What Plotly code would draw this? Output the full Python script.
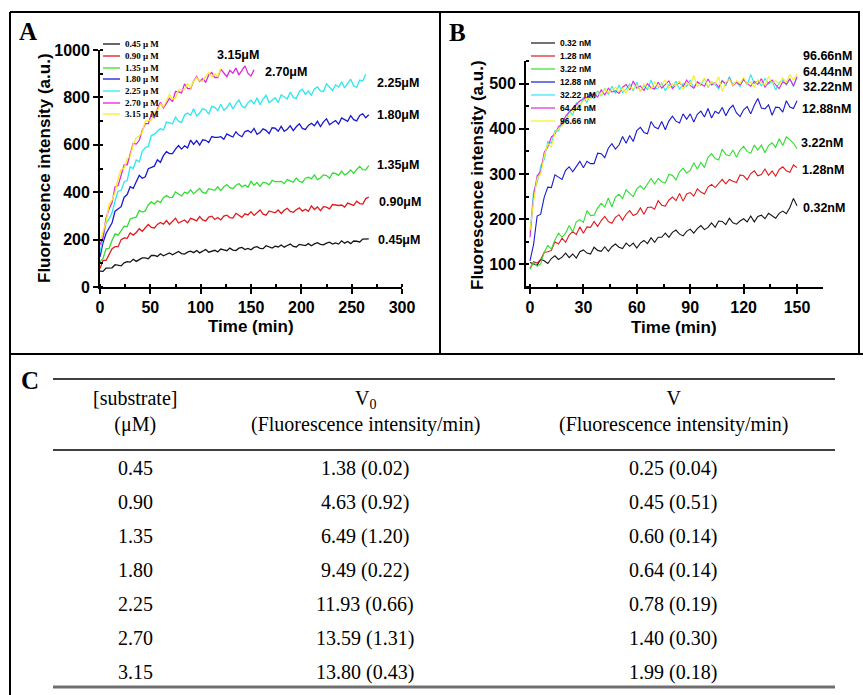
import plotly.graph_objects as go

W, H = 863, 695

# ---------------- panel A : substrate series, one reading every 3 min
a_step = 3
a_names = ["0.45 μ M", "0.90 μ M", "1.35 μ M", "1.80 μ M", "2.25 μ M", "2.70 μ M", "3.15 μ M"]
a_tags = ["0.45μM", "0.90μM", "1.35μM", "1.80μM", "2.25μM", "2.70μM", "3.15μM"]
a_045 = [67, 66, 80, 81, 81, 94, 90, 89, 102, 107, 105, 117, 108, 114, 123, 123, 119, 133, 133, 129,
         140, 132, 137, 144, 136, 144, 150, 141, 139, 147, 151, 145, 154, 144, 152, 158, 147, 151, 155, 148,
         160, 157, 153, 164, 156, 154, 164, 167, 158, 163, 157, 167, 170, 163, 162, 174, 169, 164, 172, 169,
         177, 168, 175, 181, 171, 169, 180, 178, 175, 183, 174, 182, 187, 180, 178, 185, 189, 181, 186, 181,
         195, 185, 192, 183, 194, 193, 190, 202, 201, 203]
a_090 = [78, 112, 112, 137, 162, 170, 170, 200, 207, 205, 228, 219, 230, 246, 235, 250, 264, 251, 249, 264,
         272, 265, 280, 264, 279, 290, 270, 277, 283, 271, 290, 285, 279, 297, 283, 279, 295, 299, 285, 293,
         283, 299, 303, 293, 291, 311, 302, 294, 309, 304, 318, 302, 313, 325, 307, 303, 321, 317, 313, 325,
         310, 324, 332, 319, 315, 326, 334, 320, 328, 319, 342, 327, 338, 322, 339, 337, 330, 348, 345, 344,
         346, 337, 354, 349, 344, 362, 352, 350, 373, 379]
a_135 = [107, 121, 161, 163, 197, 224, 219, 238, 257, 255, 287, 292, 295, 323, 316, 321, 347, 359, 350, 364,
         356, 377, 386, 377, 378, 401, 393, 384, 400, 395, 410, 393, 405, 416, 399, 395, 415, 412, 408, 423,
         407, 423, 432, 419, 415, 428, 436, 422, 430, 421, 446, 429, 441, 424, 441, 439, 431, 450, 445, 445,
         446, 436, 453, 448, 442, 460, 446, 441, 459, 463, 456, 473, 453, 460, 473, 470, 459, 481, 479, 471,
         489, 473, 480, 494, 479, 496, 509, 495, 494, 512]
a_180 = [127, 187, 226, 246, 271, 320, 330, 339, 379, 390, 423, 416, 444, 471, 459, 465, 499, 504, 510, 537,
         526, 554, 571, 563, 563, 582, 597, 582, 596, 587, 620, 602, 618, 599, 621, 619, 610, 635, 631, 631,
         634, 623, 646, 639, 633, 655, 641, 634, 656, 660, 651, 669, 644, 652, 667, 661, 647, 672, 670, 657,
         678, 657, 666, 680, 660, 676, 689, 669, 665, 682, 691, 680, 699, 677, 697, 710, 685, 694, 702, 687,
         713, 706, 699, 723, 706, 701, 724, 731, 714, 727]
a_225 = [146, 213, 268, 287, 314, 364, 405, 407, 443, 449, 507, 500, 536, 528, 573, 588, 594, 639, 645, 657,
         669, 662, 696, 693, 688, 717, 700, 695, 726, 734, 725, 752, 722, 734, 753, 747, 729, 762, 758, 744,
         771, 746, 757, 777, 751, 773, 789, 763, 756, 778, 788, 773, 798, 769, 793, 809, 778, 788, 799, 778,
         811, 802, 793, 823, 800, 796, 825, 835, 813, 827, 809, 836, 844, 827, 825, 858, 843, 829, 853, 844,
         866, 840, 859, 877, 849, 842, 873, 869, 898]
a_270 = [178, 207, 290, 329, 356, 423, 428, 467, 515, 515, 564, 606, 603, 619, 661, 689, 689, 730, 713, 751,
         779, 755, 775, 796, 782, 825, 823, 819, 857, 838, 836, 869, 888, 867, 879, 864, 895, 905, 884, 884,
         919, 903, 887, 914, 902, 924, 895, 914, 933, 901, 890, 917]
a_315 = [192, 234, 274, 348, 367, 400, 458, 495, 502, 542, 551, 600, 630, 637, 653, 700, 702, 704, 739, 743,
         773, 760, 786, 812, 794, 797, 832, 832, 833, 858, 841, 868, 884, 870, 868, 889, 905, 887, 900, 888,
         922]

# ---------------- panel B : enzyme series, one reading every 2 min
b_step = 2
b_names = ["0.32 nM", "1.28 nM", "3.22 nM", "12.88 nM", "32.22 nM", "64.44 nM", "96.66 nM"]
b_tags = ["0.32nM", "1.28nM", "3.22nM", "12.88nM", "32.22nM", "64.44nM", "96.66nM"]
b_032 = [104, 101, 98, 111, 108, 102, 113, 119, 111, 116, 125, 115, 123, 114, 128, 132, 125, 123, 138, 131,
         129, 139, 129, 139, 145, 138, 135, 147, 140, 147, 136, 147, 153, 146, 159, 149, 160, 160, 169, 160,
         171, 176, 167, 163, 173, 178, 169, 179, 186, 177, 182, 192, 182, 196, 195, 188, 202, 192, 189, 196,
         201, 194, 207, 194, 206, 209, 201, 213, 207, 202, 213, 218, 212, 226, 246, 230]
b_128 = [91, 106, 103, 111, 127, 128, 131, 150, 145, 158, 149, 165, 173, 166, 183, 169, 183, 182, 195, 184,
         197, 206, 195, 191, 204, 210, 198, 211, 219, 208, 212, 225, 211, 226, 227, 222, 241, 231, 229, 242,
         249, 241, 257, 240, 256, 259, 251, 267, 260, 256, 271, 277, 270, 279, 288, 278, 288, 284, 281, 298,
         296, 287, 301, 307, 296, 299, 311, 297, 307, 295, 310, 316, 307, 304, 320, 314]
b_322 = [89, 105, 96, 101, 127, 142, 134, 154, 169, 160, 169, 186, 172, 194, 199, 193, 219, 208, 209, 225,
         235, 227, 247, 227, 249, 255, 246, 265, 257, 250, 267, 274, 266, 277, 290, 278, 290, 283, 280, 299,
         297, 287, 305, 313, 302, 308, 325, 311, 326, 314, 337, 345, 334, 331, 355, 343, 340, 353, 337, 353,
         361, 350, 346, 364, 353, 364, 347, 363, 369, 359, 378, 363, 382, 376, 368, 356]
b_1288 = [108, 144, 207, 211, 249, 271, 270, 298, 293, 288, 308, 316, 305, 316, 328, 314, 328, 323, 323, 346,
          345, 336, 357, 367, 355, 364, 383, 368, 385, 372, 396, 403, 392, 389, 416, 404, 400, 416, 398, 417,
          428, 417, 413, 433, 421, 433, 415, 432, 439, 426, 445, 424, 439, 434, 447, 429, 444, 452, 435, 427,
          442, 449, 433, 452, 467, 446, 444, 453, 430, 448, 447, 437, 462, 448, 445, 462]
b_3222 = [170, 262, 280, 318, 332, 372, 368, 396, 395, 418, 416, 440, 430, 458, 448, 470, 458, 480, 466, 484,
          472, 490, 476, 494, 478, 497, 480, 488, 499, 484, 503, 482, 496, 486, 508, 488, 490, 501, 484, 498,
          492, 505, 487, 500, 494, 508, 490, 503, 496, 512, 491, 504, 497, 488, 508, 495, 516, 498, 503, 493,
          510, 497, 520, 500, 506, 495, 512, 499, 505, 486, 502, 509, 496, 511, 493, 514]
b_6444 = [160, 250, 296, 305, 348, 360, 382, 388, 405, 410, 428, 436, 445, 452, 462, 466, 470, 474, 478, 470,
          486, 475, 490, 481, 484, 478, 492, 498, 486, 506, 490, 495, 485, 500, 491, 488, 503, 490, 498, 506,
          489, 497, 502, 493, 508, 496, 490, 504, 499, 494, 510, 497, 502, 492, 506, 499, 512, 495, 503, 497,
          509, 500, 494, 505, 498, 511, 492, 502, 508, 497, 489, 504, 499, 510, 495, 515]
b_9666 = [175, 240, 290, 300, 340, 366, 360, 392, 400, 406, 418, 430, 440, 446, 455, 462, 468, 465, 476, 480,
          474, 488, 480, 486, 492, 483, 490, 479, 494, 488, 497, 482, 499, 492, 488, 504, 494, 498, 508, 490,
          500, 495, 506, 487, 502, 498, 518, 494, 500, 512, 493, 505, 499, 515, 483, 503, 510, 496, 506, 500,
          514, 498, 504, 492, 509, 502, 497, 516, 500, 507, 498, 513, 503, 520, 508, 522]

# ---------------- panel C : kinetic table
substrate = ["0.45", "0.90", "1.35", "1.80", "2.25", "2.70", "3.15"]
v0 = ["1.38 (0.02)", "4.63 (0.92)", "6.49 (1.20)", "9.49 (0.22)", "11.93 (0.66)", "13.59 (1.31)", "13.80 (0.43)"]
v = ["0.25 (0.04)", "0.45 (0.51)", "0.60 (0.14)", "0.64 (0.14)", "0.78 (0.19)", "1.40 (0.30)", "1.99 (0.18)"]

colors = ["#151515", "#e3191c", "#33dd33", "#1a1ad0", "#2ae8f0", "#e024e0", "#f7ee22"]
SANS = "Liberation Sans, Arial"
SERIF = "Liberation Serif, Times New Roman"


def fx(p):
    return p / W


def fy(p):
    return 1 - p / H


fig = go.Figure()

a_series = [a_045, a_090, a_135, a_180, a_225, a_270, a_315]
for name, ys, c in zip(a_names, a_series, colors):
    fig.add_trace(go.Scatter(x=[a_step * i for i in range(len(ys))], y=ys, mode="lines", name=name,
                             line=dict(color=c, width=1.3), xaxis="x", yaxis="y", showlegend=False))

b_series = [b_032, b_128, b_322, b_1288, b_3222, b_6444, b_9666]
for name, ys, c in zip(b_names, b_series, colors):
    fig.add_trace(go.Scatter(x=[b_step * i for i in range(len(ys))], y=ys, mode="lines", name=name,
                             line=dict(color=c, width=1.1), xaxis="x2", yaxis="y2", showlegend=False))

ann = []
shapes = []

# hand-drawn legends (plotly legend rows are too tall for this spacing)
a_leg_y = [44, 56, 68, 79, 91, 103, 114]
for name, c, yy in zip(a_names, colors, a_leg_y):
    shapes.append(dict(type="line", xref="paper", yref="paper", x0=fx(103), x1=fx(120), y0=fy(yy), y1=fy(yy),
                       line=dict(color=c, width=1.3)))
    ann.append(dict(text=name, x=fx(123), y=fy(yy), xref="paper", yref="paper", xanchor="left", yanchor="middle",
                    showarrow=False, font=dict(family=SERIF, size=9, color="black", weight="bold")))
b_leg_y = [43, 56, 69, 82, 95, 108, 121]
for name, c, yy in zip(b_names, colors, b_leg_y):
    shapes.append(dict(type="line", xref="paper", yref="paper", x0=fx(531), x1=fx(555), y0=fy(yy), y1=fy(yy),
                       line=dict(color=c, width=1.2)))
    ann.append(dict(text=name, x=fx(558), y=fy(yy), xref="paper", yref="paper", xanchor="left", yanchor="middle",
                    showarrow=False, font=dict(family=SANS, size=8.5, color="black", weight="bold")))

# curve end labels
a_tag_pos = [(376, 240), (377, 202), (375, 165), (375, 115), (375, 83), (263, 72), (215, 55)]
for t, (xx, yy) in zip(a_tags, a_tag_pos):
    ann.append(dict(text=t, x=fx(xx), y=fy(yy), xref="paper", yref="paper", xanchor="left", yanchor="middle",
                    showarrow=False, font=dict(family=SANS, size=12.5, color="black", weight="bold")))
b_tag_pos = [(801, 208), (800, 170), (799, 143), (800, 109), (801, 87), (801, 72), (801, 56)]
for t, (xx, yy) in zip(b_tags, b_tag_pos):
    ann.append(dict(text=t, x=fx(xx), y=fy(yy), xref="paper", yref="paper", xanchor="left", yanchor="middle",
                    showarrow=False, font=dict(family=SANS, size=12.5, color="black", weight="bold")))

# panel letters
for letter, (xx, yy) in zip("ABC", [(28, 32), (457, 33), (30, 380)]):
    ann.append(dict(text=letter, x=fx(xx), y=fy(yy), xref="paper", yref="paper", xanchor="center",
                    yanchor="middle", showarrow=False,
                    font=dict(family=SERIF, size=25, color="black", weight="bold")))

# axis titles placed by hand so they sit where the reference has them
for xx, yy, ang, txt in [(44, 168, -90, "Fluorescence intensity (a.u.)"), (251, 326, 0, "Time (min)"),
                         (477, 175, -90, "Fluorescence intensity (a.u.)"), (674, 327, 0, "Time (min)")]:
    ann.append(dict(text=txt, x=fx(xx), y=fy(yy), xref="paper", yref="paper", xanchor="center",
                    yanchor="middle", showarrow=False, textangle=ang,
                    font=dict(family=SANS, size=17, color="black", weight="bold")))

# frames
frame = dict(color="black", width=2)
for x0, y0, x1, y1 in [(10, 12, 860, 12), (10, 12, 10, 695), (440, 12, 440, 354), (859, 12, 859, 354),
                       (10, 354, 863, 354)]:
    shapes.append(dict(type="line", xref="paper", yref="paper", x0=fx(x0), y0=fy(y0), x1=fx(x1), y1=fy(y1),
                       line=frame))

# table rules
for yy, w, c in [(379, 1.5, "black"), (450, 1.5, "black"), (687, 3, "#6f6f6f")]:
    shapes.append(dict(type="line", xref="paper", yref="paper", x0=fx(53), x1=fx(835), y0=fy(yy), y1=fy(yy),
                       line=dict(color=c, width=w)))

tfont = dict(family=SERIF, size=20, color="black")
col_x = [135, 365, 673]
head_y = 411
ann.append(dict(text="[substrate]<br>(μM)", x=fx(col_x[0]), y=fy(head_y), xref="paper", yref="paper",
                showarrow=False, font=tfont, xanchor="center", yanchor="middle"))
ann.append(dict(text="V<sub>0</sub><br>(Fluorescence intensity/min)", x=fx(col_x[1]), y=fy(head_y),
                xref="paper", yref="paper", showarrow=False, font=tfont, xanchor="center", yanchor="middle"))
ann.append(dict(text="V<br>(Fluorescence intensity/min)", x=fx(col_x[2]), y=fy(head_y), xref="paper",
                yref="paper", showarrow=False, font=tfont, xanchor="center", yanchor="middle"))
row_y = [468, 502, 536, 570, 604, 638, 672]
for s, a, b, yy in zip(substrate, v0, v, row_y):
    for txt, xx in zip([s, a, b], col_x):
        ann.append(dict(text=txt, x=fx(xx), y=fy(yy), xref="paper", yref="paper", showarrow=False,
                        font=tfont, xanchor="center", yanchor="middle"))

tickfont = dict(family=SANS, size=16, color="black", weight="bold")
ax_common = dict(showline=True, linecolor="black", linewidth=1.8, showgrid=False, zeroline=False,
                 ticks="outside", ticklen=5, tickwidth=1.5, tickcolor="black", tickfont=tickfont,
                 mirror=False, automargin=False)

fig.update_layout(
    width=W, height=H, margin=dict(l=0, r=0, t=0, b=0, autoexpand=False),
    paper_bgcolor="white", plot_bgcolor="white",
    xaxis=dict(domain=[fx(100), fx(402)], range=[0, 300], dtick=50, anchor="y",
               minor=dict(dtick=25, ticks="inside", ticklen=3, tickcolor="black"), **ax_common),
    yaxis=dict(domain=[fy(287), fy(50)], range=[0, 1000], dtick=200, anchor="x",
               minor=dict(dtick=100, ticks="inside", ticklen=3, tickcolor="black"), **ax_common),
    xaxis2=dict(domain=[fx(526), fx(823)], range=[-2.25, 164.6], tick0=0, dtick=30, anchor="y2",
                minor=dict(tick0=0, dtick=15, ticks="inside", ticklen=3, tickcolor="black"), **ax_common),
    yaxis2=dict(domain=[fy(287), fy(61)], range=[50, 550], tick0=0, dtick=100, anchor="x2",
                minor=dict(tick0=0, dtick=50, ticks="inside", ticklen=3, tickcolor="black"), **ax_common),
    annotations=ann,
    shapes=shapes,
)

# the page body has a default 8px margin; drop it so the figure sits at the window origin
fig.write_html("out.html", config={"displayModeBar": False},
               post_script="document.body.style.margin='0';")
